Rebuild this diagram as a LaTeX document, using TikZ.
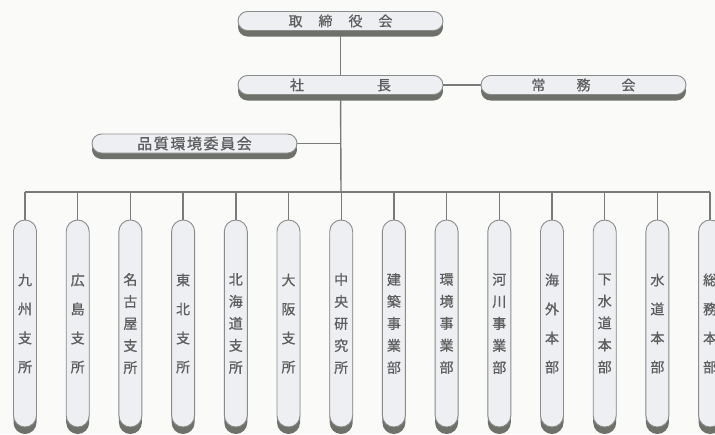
\documentclass[tikz,border=0pt]{standalone}
\usepackage{fontspec}
\newfontfamily\jp[FakeBold=0.8]{Noto Sans CJK JP}
\usetikzlibrary{shadows}
\definecolor{bg}{HTML}{FAFAF8}
\definecolor{face}{HTML}{EDEFF3}
\definecolor{edge}{HTML}{8A8C8A}
\definecolor{shade}{HTML}{6E706A}
\definecolor{conncol}{HTML}{7A7A7A}
\definecolor{txt}{HTML}{5E5E5E}
\pgfdeclarelayer{bgfill}
\pgfdeclarelayer{conns}
\pgfsetlayers{bgfill,conns,main}
\tikzset{
  hbox/.style={draw=edge, line width=0.9pt, fill=face, rounded corners=9.5pt,
    minimum width=205pt, minimum height=19pt, inner sep=0pt, text=txt,
    font=\jp\fontsize{14}{14}\selectfont,
    drop shadow={shadow xshift=0pt, shadow yshift=-6pt, fill=shade, opacity=1}},
  pill/.style={draw=edge, line width=0.9pt, fill=face, rounded corners=11.5pt,
    minimum width=23pt, minimum height=207pt, inner sep=0pt, text=txt, align=center,
    drop shadow={shadow xshift=0pt, shadow yshift=-7pt, fill=shade, opacity=1}},
  four/.style={font=\jp\fontsize{14}{29}\selectfont},
  five/.style={font=\jp\fontsize{14}{22}\selectfont},
  conn/.style={draw=conncol, line width=1.4pt}
}
\begin{document}
\begin{tikzpicture}[x=1pt,y=-1pt]
\useasboundingbox (0,0) rectangle (715,434);
\clip (0,0) rectangle (715,434);
\begin{pgfonlayer}{bgfill}
\fill[bg] (0,0) rectangle (715,434);
\end{pgfonlayer}
% top boxes
\node[hbox] (board) at (340.5,21) {取\hspace{16pt}締\hspace{16pt}役\hspace{16pt}会};
\node[hbox] (pres) at (340.5,85) {社\hspace{73pt}長};
\node[hbox] (jomu) at (583.5,85) {常\hspace{31pt}務\hspace{31pt}会};
\node[hbox, font=\jp\fontsize{15}{15}\selectfont] (qual) at (194.5,143.5) {品\hspace{1.6pt}質\hspace{1.6pt}環\hspace{1.6pt}境\hspace{1.6pt}委\hspace{1.6pt}員\hspace{1.6pt}会};
% pills
\node[pill,four] (p1) at (25,323.5) {九\\州\\支\\所};
\node[pill,four] (p2) at (77.7,323.5) {広\\島\\支\\所};
\node[pill,five] (p3) at (130.4,323.5) {名\\古\\屋\\支\\所};
\node[pill,four] (p4) at (183.1,323.5) {東\\北\\支\\所};
\node[pill,five] (p5) at (235.8,323.5) {北\\海\\道\\支\\所};
\node[pill,four] (p6) at (288.5,323.5) {大\\阪\\支\\所};
\node[pill,five] (p7) at (341.2,323.5) {中\\央\\研\\究\\所};
\node[pill,five] (p8) at (393.9,323.5) {建\\築\\事\\業\\部};
\node[pill,five] (p9) at (446.6,323.5) {環\\境\\事\\業\\部};
\node[pill,five] (p10) at (499.3,323.5) {河\\川\\事\\業\\部};
\node[pill,four] (p11) at (552,323.5) {海\\外\\本\\部};
\node[pill,five] (p12) at (604.7,323.5) {下\\水\\道\\本\\部};
\node[pill,four] (p13) at (657.4,323.5) {水\\道\\本\\部};
\node[pill,four] (p14) at (710.1,323.5) {総\\務\\本\\部};
% connector coordinates
\coordinate (bus) at (341,192);
\coordinate (qj) at (341,143.5);
\begin{pgfonlayer}{conns}
\draw[conn] (board) -- (pres);
\draw[conn] (pres) -- (bus);
\draw[conn] (qual.east) -- (qj);
\draw[conn] (pres.east) -- (jomu.west);
\draw[conn] (p1.north |- bus) -- (p14.north |- bus);
\foreach \i in {1,...,14}{
  \draw[conn] (p\i.north |- bus) -- (p\i.north);
}
\end{pgfonlayer}
\end{tikzpicture}
\end{document}
